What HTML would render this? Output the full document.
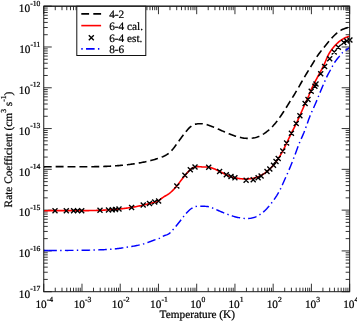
<!DOCTYPE html>
<html><head><meta charset="utf-8"><title>Rate Coefficient vs Temperature</title>
<style>html,body{margin:0;padding:0;background:#fff;overflow:hidden}svg{display:block}</style></head>
<body>
<svg width="357" height="322" viewBox="0 0 357 322" font-family="'Liberation Serif', serif" font-size="11.3" fill="#000" text-rendering="geometricPrecision"><style>text{stroke:#000;stroke-width:0.22px}</style>
<rect width="357" height="322" fill="#fff"/>
<path d="M43.75,291.7v-8M43.75,6.2v8M55.26,291.7v-4M55.26,6.2v4M61.99,291.7v-4M61.99,6.2v4M66.77,291.7v-4M66.77,6.2v4M70.48,291.7v-4M70.48,6.2v4M73.50,291.7v-4M73.50,6.2v4M76.06,291.7v-4M76.06,6.2v4M78.28,291.7v-4M78.28,6.2v4M80.24,291.7v-4M80.24,6.2v4M81.99,291.7v-8M81.99,6.2v8M93.50,291.7v-4M93.50,6.2v4M100.23,291.7v-4M100.23,6.2v4M105.01,291.7v-4M105.01,6.2v4M108.71,291.7v-4M108.71,6.2v4M111.74,291.7v-4M111.74,6.2v4M114.30,291.7v-4M114.30,6.2v4M116.52,291.7v-4M116.52,6.2v4M118.48,291.7v-4M118.48,6.2v4M120.22,291.7v-8M120.22,6.2v8M131.74,291.7v-4M131.74,6.2v4M138.47,291.7v-4M138.47,6.2v4M143.25,291.7v-4M143.25,6.2v4M146.95,291.7v-4M146.95,6.2v4M149.98,291.7v-4M149.98,6.2v4M152.54,291.7v-4M152.54,6.2v4M154.76,291.7v-4M154.76,6.2v4M156.71,291.7v-4M156.71,6.2v4M158.46,291.7v-8M158.46,6.2v8M169.97,291.7v-4M169.97,6.2v4M176.71,291.7v-4M176.71,6.2v4M181.48,291.7v-4M181.48,6.2v4M185.19,291.7v-4M185.19,6.2v4M188.22,291.7v-4M188.22,6.2v4M190.78,291.7v-4M190.78,6.2v4M192.99,291.7v-4M192.99,6.2v4M194.95,291.7v-4M194.95,6.2v4M196.70,291.7v-8M196.70,6.2v8M208.21,291.7v-4M208.21,6.2v4M214.94,291.7v-4M214.94,6.2v4M219.72,291.7v-4M219.72,6.2v4M223.43,291.7v-4M223.43,6.2v4M226.45,291.7v-4M226.45,6.2v4M229.01,291.7v-4M229.01,6.2v4M231.23,291.7v-4M231.23,6.2v4M233.19,291.7v-4M233.19,6.2v4M234.94,291.7v-8M234.94,6.2v8M246.45,291.7v-4M246.45,6.2v4M253.18,291.7v-4M253.18,6.2v4M257.96,291.7v-4M257.96,6.2v4M261.66,291.7v-4M261.66,6.2v4M264.69,291.7v-4M264.69,6.2v4M267.25,291.7v-4M267.25,6.2v4M269.47,291.7v-4M269.47,6.2v4M271.43,291.7v-4M271.43,6.2v4M273.17,291.7v-8M273.17,6.2v8M284.69,291.7v-4M284.69,6.2v4M291.42,291.7v-4M291.42,6.2v4M296.20,291.7v-4M296.20,6.2v4M299.90,291.7v-4M299.90,6.2v4M302.93,291.7v-4M302.93,6.2v4M305.49,291.7v-4M305.49,6.2v4M307.71,291.7v-4M307.71,6.2v4M309.66,291.7v-4M309.66,6.2v4M311.41,291.7v-8M311.41,6.2v8M322.92,291.7v-4M322.92,6.2v4M329.66,291.7v-4M329.66,6.2v4M334.43,291.7v-4M334.43,6.2v4M338.14,291.7v-4M338.14,6.2v4M341.17,291.7v-4M341.17,6.2v4M343.73,291.7v-4M343.73,6.2v4M345.94,291.7v-4M345.94,6.2v4M347.90,291.7v-4M347.90,6.2v4M349.65,291.7v-8M349.65,6.2v8M43.75,6.20h8M349.65,6.20h-8M43.75,34.71h4M349.65,34.71h-4M43.75,27.53h4M349.65,27.53h-4M43.75,22.43h4M349.65,22.43h-4M43.75,18.48h4M349.65,18.48h-4M43.75,15.25h4M349.65,15.25h-4M43.75,12.52h4M349.65,12.52h-4M43.75,10.15h4M349.65,10.15h-4M43.75,8.07h4M349.65,8.07h-4M43.75,46.99h8M349.65,46.99h-8M43.75,75.49h4M349.65,75.49h-4M43.75,68.31h4M349.65,68.31h-4M43.75,63.22h4M349.65,63.22h-4M43.75,59.26h4M349.65,59.26h-4M43.75,56.03h4M349.65,56.03h-4M43.75,53.30h4M349.65,53.30h-4M43.75,50.94h4M349.65,50.94h-4M43.75,48.85h4M349.65,48.85h-4M43.75,87.77h8M349.65,87.77h-8M43.75,116.28h4M349.65,116.28h-4M43.75,109.10h4M349.65,109.10h-4M43.75,104.00h4M349.65,104.00h-4M43.75,100.05h4M349.65,100.05h-4M43.75,96.82h4M349.65,96.82h-4M43.75,94.09h4M349.65,94.09h-4M43.75,91.72h4M349.65,91.72h-4M43.75,89.64h4M349.65,89.64h-4M43.75,128.56h8M349.65,128.56h-8M43.75,157.07h4M349.65,157.07h-4M43.75,149.88h4M349.65,149.88h-4M43.75,144.79h4M349.65,144.79h-4M43.75,140.83h4M349.65,140.83h-4M43.75,137.61h4M349.65,137.61h-4M43.75,134.87h4M349.65,134.87h-4M43.75,132.51h4M349.65,132.51h-4M43.75,130.42h4M349.65,130.42h-4M43.75,169.34h8M349.65,169.34h-8M43.75,197.85h4M349.65,197.85h-4M43.75,190.67h4M349.65,190.67h-4M43.75,185.57h4M349.65,185.57h-4M43.75,181.62h4M349.65,181.62h-4M43.75,178.39h4M349.65,178.39h-4M43.75,175.66h4M349.65,175.66h-4M43.75,173.30h4M349.65,173.30h-4M43.75,171.21h4M349.65,171.21h-4M43.75,210.13h8M349.65,210.13h-8M43.75,238.64h4M349.65,238.64h-4M43.75,231.45h4M349.65,231.45h-4M43.75,226.36h4M349.65,226.36h-4M43.75,222.41h4M349.65,222.41h-4M43.75,219.18h4M349.65,219.18h-4M43.75,216.45h4M349.65,216.45h-4M43.75,214.08h4M349.65,214.08h-4M43.75,211.99h4M349.65,211.99h-4M43.75,250.91h8M349.65,250.91h-8M43.75,279.42h4M349.65,279.42h-4M43.75,272.24h4M349.65,272.24h-4M43.75,267.14h4M349.65,267.14h-4M43.75,263.19h4M349.65,263.19h-4M43.75,259.96h4M349.65,259.96h-4M43.75,257.23h4M349.65,257.23h-4M43.75,254.87h4M349.65,254.87h-4M43.75,252.78h4M349.65,252.78h-4M43.75,291.70h8M349.65,291.70h-8" stroke="#000" stroke-width="0.8" fill="none"/>
<clipPath id="c"><rect x="43.75" y="6.2" width="305.9" height="285.5"/></clipPath>
<g clip-path="url(#c)" fill="none">
<path d="M43.75,166.85 L44.75,166.83 L45.75,166.80 L46.75,166.78 L47.75,166.76 L48.75,166.74 L49.75,166.73 L50.75,166.72 L51.75,166.70 L52.75,166.69 L53.75,166.68 L54.75,166.68 L55.75,166.67 L56.75,166.67 L57.75,166.66 L58.75,166.66 L59.75,166.66 L60.75,166.66 L61.75,166.66 L62.75,166.66 L63.75,166.66 L64.75,166.67 L65.75,166.67 L66.75,166.68 L67.75,166.68 L68.75,166.69 L69.75,166.69 L70.75,166.70 L71.75,166.70 L72.75,166.71 L73.75,166.71 L74.75,166.72 L75.75,166.72 L76.75,166.73 L77.75,166.73 L78.75,166.74 L79.75,166.74 L80.75,166.74 L81.75,166.74 L82.75,166.74 L83.75,166.75 L84.75,166.74 L85.75,166.74 L86.75,166.74 L87.75,166.74 L88.75,166.73 L89.75,166.72 L90.75,166.72 L91.75,166.71 L92.75,166.70 L93.75,166.68 L94.75,166.67 L95.75,166.65 L96.75,166.63 L97.75,166.61 L98.75,166.59 L99.75,166.57 L100.75,166.54 L101.75,166.51 L102.75,166.48 L103.75,166.45 L104.75,166.41 L105.75,166.37 L106.75,166.33 L107.75,166.28 L108.75,166.24 L109.75,166.19 L110.75,166.13 L111.75,166.08 L112.75,166.02 L113.75,165.95 L114.75,165.89 L115.75,165.82 L116.75,165.74 L117.75,165.66 L118.75,165.58 L119.75,165.50 L120.75,165.41 L121.75,165.32 L122.75,165.22 L123.75,165.12 L124.75,165.02 L125.75,164.91 L126.75,164.79 L127.75,164.68 L128.75,164.55 L129.75,164.43 L130.75,164.29 L131.75,164.16 L132.75,164.02 L133.75,163.87 L134.75,163.72 L135.75,163.56 L136.75,163.40 L137.75,163.24 L138.75,163.06 L139.75,162.89 L140.75,162.70 L141.75,162.52 L142.75,162.32 L143.75,162.12 L144.75,161.92 L145.75,161.70 L146.75,161.48 L147.75,161.26 L148.75,161.02 L149.75,160.78 L150.75,160.52 L151.75,160.26 L152.75,159.99 L153.75,159.71 L154.75,159.42 L155.75,159.12 L156.75,158.81 L157.75,158.49 L158.75,158.15 L159.75,157.81 L160.75,157.45 L161.75,157.07 L162.75,156.68 L163.75,156.26 L164.75,155.80 L165.75,155.28 L166.75,154.69 L167.75,154.02 L168.75,153.27 L169.75,152.42 L170.75,151.45 L171.75,150.38 L172.75,149.21 L173.75,147.97 L174.75,146.67 L175.75,145.32 L176.75,143.94 L177.75,142.55 L178.75,141.17 L179.75,139.79 L180.75,138.42 L181.75,137.07 L182.75,135.74 L183.75,134.42 L184.75,133.13 L185.75,131.87 L186.75,130.64 L187.75,129.48 L188.75,128.39 L189.75,127.40 L190.75,126.53 L191.75,125.79 L192.75,125.20 L193.75,124.73 L194.75,124.37 L195.75,124.11 L196.75,123.93 L197.75,123.81 L198.75,123.73 L199.75,123.69 L200.75,123.68 L201.75,123.71 L202.75,123.79 L203.75,123.91 L204.75,124.10 L205.75,124.33 L206.75,124.61 L207.75,124.92 L208.75,125.26 L209.75,125.63 L210.75,126.00 L211.75,126.39 L212.75,126.79 L213.75,127.20 L214.75,127.62 L215.75,128.05 L216.75,128.48 L217.75,128.91 L218.75,129.35 L219.75,129.79 L220.75,130.24 L221.75,130.68 L222.75,131.12 L223.75,131.56 L224.75,132.00 L225.75,132.43 L226.75,132.86 L227.75,133.28 L228.75,133.69 L229.75,134.10 L230.75,134.49 L231.75,134.87 L232.75,135.24 L233.75,135.59 L234.75,135.93 L235.75,136.25 L236.75,136.56 L237.75,136.84 L238.75,137.11 L239.75,137.35 L240.75,137.57 L241.75,137.77 L242.75,137.95 L243.75,138.10 L244.75,138.22 L245.75,138.31 L246.75,138.38 L247.75,138.41 L248.75,138.41 L249.75,138.38 L250.75,138.32 L251.75,138.22 L252.75,138.08 L253.75,137.91 L254.75,137.69 L255.75,137.44 L256.75,137.15 L257.75,136.81 L258.75,136.43 L259.75,136.00 L260.75,135.53 L261.75,135.02 L262.75,134.45 L263.75,133.84 L264.75,133.19 L265.75,132.48 L266.75,131.73 L267.75,130.93 L268.75,130.08 L269.75,129.18 L270.75,128.23 L271.75,127.23 L272.75,126.18 L273.75,125.07 L274.75,123.92 L275.75,122.72 L276.75,121.46 L277.75,120.16 L278.75,118.80 L279.75,117.40 L280.75,115.96 L281.75,114.48 L282.75,112.97 L283.75,111.44 L284.75,109.88 L285.75,108.30 L286.75,106.71 L287.75,105.11 L288.75,103.50 L289.75,101.90 L290.75,100.29 L291.75,98.69 L292.75,97.08 L293.75,95.46 L294.75,93.83 L295.75,92.17 L296.75,90.49 L297.75,88.77 L298.75,87.03 L299.75,85.28 L300.75,83.51 L301.75,81.75 L302.75,80.00 L303.75,78.27 L304.75,76.56 L305.75,74.88 L306.75,73.23 L307.75,71.59 L308.75,69.97 L309.75,68.35 L310.75,66.74 L311.75,65.11 L312.75,63.47 L313.75,61.82 L314.75,60.17 L315.75,58.53 L316.75,56.95 L317.75,55.43 L318.75,54.00 L319.75,52.66 L320.75,51.37 L321.75,50.12 L322.75,48.89 L323.75,47.65 L324.75,46.41 L325.75,45.17 L326.75,43.94 L327.75,42.73 L328.75,41.53 L329.75,40.35 L330.75,39.21 L331.75,38.09 L332.75,37.02 L333.75,35.98 L334.75,35.00 L335.75,34.06 L336.75,33.19 L337.75,32.37 L338.75,31.62 L339.75,30.95 L340.75,30.35 L341.75,29.82 L342.75,29.36 L343.75,28.96 L344.75,28.59 L345.75,28.24 L346.75,27.91 L347.75,27.58 L349.65,26.91" stroke="#000" stroke-width="1.6" stroke-dasharray="7.93 3.96"/>
<path d="M43.75,210.76 L44.75,210.73 L45.75,210.71 L46.75,210.70 L47.75,210.68 L48.75,210.67 L49.75,210.65 L50.75,210.64 L51.75,210.63 L52.75,210.62 L53.75,210.62 L54.75,210.61 L55.75,210.61 L56.75,210.60 L57.75,210.60 L58.75,210.60 L59.75,210.60 L60.75,210.60 L61.75,210.60 L62.75,210.60 L63.75,210.61 L64.75,210.61 L65.75,210.61 L66.75,210.61 L67.75,210.62 L68.75,210.62 L69.75,210.63 L70.75,210.63 L71.75,210.63 L72.75,210.64 L73.75,210.64 L74.75,210.64 L75.75,210.64 L76.75,210.65 L77.75,210.65 L78.75,210.65 L79.75,210.65 L80.75,210.64 L81.75,210.64 L82.75,210.64 L83.75,210.63 L84.75,210.63 L85.75,210.62 L86.75,210.61 L87.75,210.60 L88.75,210.59 L89.75,210.57 L90.75,210.56 L91.75,210.54 L92.75,210.52 L93.75,210.50 L94.75,210.48 L95.75,210.45 L96.75,210.42 L97.75,210.39 L98.75,210.36 L99.75,210.33 L100.75,210.29 L101.75,210.25 L102.75,210.20 L103.75,210.16 L104.75,210.11 L105.75,210.06 L106.75,210.00 L107.75,209.94 L108.75,209.88 L109.75,209.82 L110.75,209.75 L111.75,209.68 L112.75,209.60 L113.75,209.52 L114.75,209.44 L115.75,209.35 L116.75,209.26 L117.75,209.17 L118.75,209.07 L119.75,208.96 L120.75,208.86 L121.75,208.74 L122.75,208.63 L123.75,208.51 L124.75,208.38 L125.75,208.25 L126.75,208.11 L127.75,207.97 L128.75,207.83 L129.75,207.68 L130.75,207.52 L131.75,207.36 L132.75,207.20 L133.75,207.03 L134.75,206.85 L135.75,206.67 L136.75,206.48 L137.75,206.28 L138.75,206.08 L139.75,205.88 L140.75,205.67 L141.75,205.45 L142.75,205.23 L143.75,205.00 L144.75,204.76 L145.75,204.52 L146.75,204.27 L147.75,204.02 L148.75,203.77 L149.75,203.52 L150.75,203.26 L151.75,203.00 L152.75,202.75 L153.75,202.49 L154.75,202.24 L155.75,201.98 L156.75,201.66 L157.75,201.22 L158.75,200.62 L159.75,199.84 L160.75,199.01 L161.75,198.24 L162.75,197.55 L163.75,196.91 L164.75,196.31 L165.75,195.72 L166.75,195.13 L167.75,194.50 L168.75,193.82 L169.75,193.08 L170.75,192.25 L171.75,191.35 L172.75,190.38 L173.75,189.35 L174.75,188.26 L175.75,187.11 L176.75,185.92 L177.75,184.68 L178.75,183.41 L179.75,182.12 L180.75,180.82 L181.75,179.51 L182.75,178.22 L183.75,176.94 L184.75,175.69 L185.75,174.47 L186.75,173.31 L187.75,172.21 L188.75,171.18 L189.75,170.22 L190.75,169.36 L191.75,168.60 L192.75,167.95 L193.75,167.42 L194.75,167.02 L195.75,166.76 L196.75,166.63 L197.75,166.59 L198.75,166.63 L199.75,166.71 L200.75,166.80 L201.75,166.89 L202.75,166.94 L203.75,166.96 L204.75,166.97 L205.75,166.98 L206.75,167.01 L207.75,167.08 L208.75,167.20 L209.75,167.38 L210.75,167.62 L211.75,167.92 L212.75,168.26 L213.75,168.64 L214.75,169.05 L215.75,169.48 L216.75,169.94 L217.75,170.42 L218.75,170.91 L219.75,171.41 L220.75,171.92 L221.75,172.43 L222.75,172.94 L223.75,173.45 L224.75,173.95 L225.75,174.44 L226.75,174.91 L227.75,175.37 L228.75,175.80 L229.75,176.20 L230.75,176.57 L231.75,176.91 L232.75,177.22 L233.75,177.49 L234.75,177.73 L235.75,177.95 L236.75,178.14 L237.75,178.31 L238.75,178.46 L239.75,178.59 L240.75,178.70 L241.75,178.80 L242.75,178.88 L243.75,178.93 L244.75,178.97 L245.75,178.98 L246.75,178.97 L247.75,178.94 L248.75,178.88 L249.75,178.79 L250.75,178.67 L251.75,178.52 L252.75,178.34 L253.75,178.12 L254.75,177.87 L255.75,177.59 L256.75,177.27 L257.75,176.90 L258.75,176.50 L259.75,176.06 L260.75,175.57 L261.75,175.04 L262.75,174.47 L263.75,173.84 L264.75,173.17 L265.75,172.45 L266.75,171.67 L267.75,170.85 L268.75,169.97 L269.75,169.03 L270.75,168.04 L271.75,166.98 L272.75,165.87 L273.75,164.70 L274.75,163.46 L275.75,162.16 L276.75,160.78 L277.75,159.34 L278.75,157.82 L279.75,156.23 L280.75,154.55 L281.75,152.80 L282.75,150.95 L283.75,149.03 L284.75,147.03 L285.75,144.98 L286.75,142.89 L287.75,140.77 L288.75,138.66 L289.75,136.56 L290.75,134.48 L291.75,132.46 L292.75,130.48 L293.75,128.52 L294.75,126.56 L295.75,124.55 L296.75,122.48 L297.75,120.33 L298.75,118.12 L299.75,115.87 L300.75,113.58 L301.75,111.28 L302.75,108.99 L303.75,106.73 L304.75,104.53 L305.75,102.42 L306.75,100.33 L307.75,98.16 L308.75,95.78 L309.75,93.22 L310.75,90.70 L311.75,88.40 L312.75,86.29 L313.75,84.31 L314.75,82.38 L315.75,80.45 L316.75,78.53 L317.75,76.62 L318.75,74.76 L319.75,72.95 L320.75,71.18 L321.75,69.37 L322.75,67.47 L323.75,65.39 L324.75,63.12 L325.75,60.76 L326.75,58.42 L327.75,56.20 L328.75,54.21 L329.75,52.45 L330.75,50.88 L331.75,49.47 L332.75,48.18 L333.75,46.97 L334.75,45.83 L335.75,44.76 L336.75,43.76 L337.75,42.83 L338.75,41.96 L339.75,41.16 L340.75,40.41 L341.75,39.73 L342.75,39.10 L343.75,38.53 L344.75,38.02 L345.75,37.55 L346.75,37.14 L347.75,36.78 L349.65,36.22" stroke="#f00" stroke-width="1.6"/>
<path d="M43.7,250.5H48.2" stroke="#00f" stroke-width="1.45"/>
<path d="M43.75,250.52 L44.75,250.51 L45.75,250.50 L46.75,250.49 L47.75,250.49 L48.75,250.48 L49.75,250.47 L50.75,250.46 L51.75,250.46 L52.75,250.45 L53.75,250.45 L54.75,250.44 L55.75,250.44 L56.75,250.43 L57.75,250.43 L58.75,250.43 L59.75,250.42 L60.75,250.42 L61.75,250.42 L62.75,250.41 L63.75,250.41 L64.75,250.41 L65.75,250.40 L66.75,250.40 L67.75,250.40 L68.75,250.39 L69.75,250.39 L70.75,250.38 L71.75,250.38 L72.75,250.37 L73.75,250.36 L74.75,250.36 L75.75,250.35 L76.75,250.34 L77.75,250.33 L78.75,250.32 L79.75,250.31 L80.75,250.30 L81.75,250.29 L82.75,250.27 L83.75,250.26 L84.75,250.24 L85.75,250.22 L86.75,250.20 L87.75,250.19 L88.75,250.16 L89.75,250.14 L90.75,250.12 L91.75,250.09 L92.75,250.07 L93.75,250.04 L94.75,250.01 L95.75,249.98 L96.75,249.94 L97.75,249.91 L98.75,249.87 L99.75,249.83 L100.75,249.79 L101.75,249.75 L102.75,249.71 L103.75,249.66 L104.75,249.61 L105.75,249.56 L106.75,249.51 L107.75,249.45 L108.75,249.39 L109.75,249.33 L110.75,249.26 L111.75,249.19 L112.75,249.11 L113.75,249.02 L114.75,248.93 L115.75,248.82 L116.75,248.71 L117.75,248.58 L118.75,248.45 L119.75,248.31 L120.75,248.17 L121.75,248.02 L122.75,247.87 L123.75,247.71 L124.75,247.56 L125.75,247.40 L126.75,247.24 L127.75,247.08 L128.75,246.92 L129.75,246.76 L130.75,246.60 L131.75,246.44 L132.75,246.27 L133.75,246.10 L134.75,245.92 L135.75,245.73 L136.75,245.54 L137.75,245.34 L138.75,245.12 L139.75,244.90 L140.75,244.66 L141.75,244.41 L142.75,244.14 L143.75,243.86 L144.75,243.56 L145.75,243.24 L146.75,242.91 L147.75,242.55 L148.75,242.17 L149.75,241.78 L150.75,241.37 L151.75,240.97 L152.75,240.58 L153.75,240.21 L154.75,239.86 L155.75,239.54 L156.75,239.26 L157.75,238.97 L158.75,238.64 L159.75,238.20 L160.75,237.64 L161.75,237.01 L162.75,236.41 L163.75,235.91 L164.75,235.51 L165.75,235.16 L166.75,234.81 L167.75,234.40 L168.75,233.89 L169.75,233.20 L170.75,232.31 L171.75,231.23 L172.75,230.05 L173.75,228.86 L174.75,227.67 L175.75,226.47 L176.75,225.26 L177.75,224.03 L178.75,222.80 L179.75,221.54 L180.75,220.27 L181.75,218.97 L182.75,217.66 L183.75,216.36 L184.75,215.09 L185.75,213.87 L186.75,212.72 L187.75,211.65 L188.75,210.67 L189.75,209.77 L190.75,208.97 L191.75,208.26 L192.75,207.66 L193.75,207.17 L194.75,206.78 L195.75,206.52 L196.75,206.36 L197.75,206.28 L198.75,206.27 L199.75,206.27 L200.75,206.28 L201.75,206.28 L202.75,206.28 L203.75,206.28 L204.75,206.30 L205.75,206.35 L206.75,206.43 L207.75,206.57 L208.75,206.76 L209.75,207.01 L210.75,207.32 L211.75,207.67 L212.75,208.06 L213.75,208.48 L214.75,208.93 L215.75,209.38 L216.75,209.83 L217.75,210.28 L218.75,210.72 L219.75,211.16 L220.75,211.60 L221.75,212.02 L222.75,212.44 L223.75,212.85 L224.75,213.26 L225.75,213.65 L226.75,214.04 L227.75,214.41 L228.75,214.77 L229.75,215.12 L230.75,215.46 L231.75,215.79 L232.75,216.10 L233.75,216.40 L234.75,216.68 L235.75,216.94 L236.75,217.19 L237.75,217.42 L238.75,217.64 L239.75,217.83 L240.75,218.01 L241.75,218.17 L242.75,218.30 L243.75,218.40 L244.75,218.48 L245.75,218.53 L246.75,218.54 L247.75,218.52 L248.75,218.46 L249.75,218.37 L250.75,218.23 L251.75,218.05 L252.75,217.82 L253.75,217.54 L254.75,217.21 L255.75,216.83 L256.75,216.39 L257.75,215.89 L258.75,215.33 L259.75,214.72 L260.75,214.03 L261.75,213.28 L262.75,212.48 L263.75,211.61 L264.75,210.68 L265.75,209.70 L266.75,208.66 L267.75,207.57 L268.75,206.43 L269.75,205.23 L270.75,203.99 L271.75,202.70 L272.75,201.37 L273.75,199.99 L274.75,198.57 L275.75,197.09 L276.75,195.54 L277.75,193.90 L278.75,192.16 L279.75,190.31 L280.75,188.34 L281.75,186.24 L282.75,184.05 L283.75,181.81 L284.75,179.55 L285.75,177.29 L286.75,175.05 L287.75,172.80 L288.75,170.50 L289.75,168.15 L290.75,165.73 L291.75,163.24 L292.75,160.69 L293.75,158.08 L294.75,155.40 L295.75,152.67 L296.75,149.93 L297.75,147.23 L298.75,144.62 L299.75,142.13 L300.75,139.81 L301.75,137.60 L302.75,135.39 L303.75,133.09 L304.75,130.58 L305.75,127.87 L306.75,125.03 L307.75,122.15 L308.75,119.33 L309.75,116.66 L310.75,114.19 L311.75,111.88 L312.75,109.67 L313.75,107.49 L314.75,105.30 L315.75,103.03 L316.75,100.64 L317.75,98.15 L318.75,95.63 L319.75,93.13 L320.75,90.69 L321.75,88.35 L322.75,86.07 L323.75,83.76 L324.75,81.41 L325.75,79.06 L326.75,76.87 L327.75,74.88 L328.75,73.03 L329.75,71.23 L330.75,69.40 L331.75,67.52 L332.75,65.67 L333.75,63.89 L334.75,62.27 L335.75,60.83 L336.75,59.53 L337.75,58.31 L338.75,57.11 L339.75,55.89 L340.75,54.64 L341.75,53.45 L342.75,52.41 L343.75,51.53 L344.75,50.78 L345.75,50.12 L346.75,49.51 L347.75,48.91 L349.65,47.65" stroke="#00f" stroke-width="1.45" stroke-dasharray="8.6 3.325 1.4 3.325" stroke-dashoffset="-4.5"/>
</g>
<path d="M52.5,208.3l5,5M52.5,213.3l5,-5M63.8,208.3l5,5M63.8,213.3l5,-5M71.1,208.3l5,5M71.1,213.3l5,-5M75.0,208.3l5,5M75.0,213.3l5,-5M79.2,208.3l5,5M79.2,213.3l5,-5M97.5,207.7l5,5M97.5,212.7l5,-5M106.0,207.4l5,5M106.0,212.4l5,-5M109.8,207.2l5,5M109.8,212.2l5,-5M113.0,206.9l5,5M113.0,211.9l5,-5M116.5,206.6l5,5M116.5,211.6l5,-5M129.1,205.0l5,5M129.1,210.0l5,-5M140.7,202.6l5,5M140.7,207.6l5,-5M147.0,200.9l5,5M147.0,205.9l5,-5M152.2,199.5l5,5M152.2,204.5l5,-5M156.1,198.4l5,5M156.1,203.4l5,-5M174.3,183.6l5,5M174.3,188.6l5,-5M182.4,172.7l5,5M182.4,177.7l5,-5M187.8,167.3l5,5M187.8,172.3l5,-5M192.5,164.6l5,5M192.5,169.6l5,-5M206.2,164.8l5,5M206.2,169.8l5,-5M217.1,168.9l5,5M217.1,173.9l5,-5M223.8,172.3l5,5M223.8,177.3l5,-5M228.5,174.1l5,5M228.5,179.1l5,-5M232.4,175.3l5,5M232.4,180.3l5,-5M243.6,177.8l5,5M243.6,182.8l5,-5M250.7,177.3l5,5M250.7,182.3l5,-5M255.6,175.3l5,5M255.6,180.3l5,-5M258.6,173.4l5,5M258.6,178.4l5,-5M264.5,168.9l5,5M264.5,173.9l5,-5M267.3,166.5l5,5M267.3,171.5l5,-5M271.0,162.8l5,5M271.0,167.8l5,-5M273.5,159.1l5,5M273.5,164.1l5,-5M275.7,156.1l5,5M275.7,161.1l5,-5M280.3,148.5l5,5M280.3,153.5l5,-5M284.1,140.6l5,5M284.1,145.6l5,-5M288.9,130.7l5,5M288.9,135.7l5,-5M293.7,121.1l5,5M293.7,126.1l5,-5M297.4,113.2l5,5M297.4,118.2l5,-5M302.6,100.9l5,5M302.6,105.9l5,-5M305.5,96.9l5,5M305.5,101.9l5,-5M308.7,88.7l5,5M308.7,93.7l5,-5M312.4,83.7l5,5M312.4,88.7l5,-5M313.5,81.4l5,5M313.5,86.4l5,-5M318.2,71.2l5,5M318.2,76.2l5,-5M322.1,64.0l5,5M322.1,69.0l5,-5M327.2,56.3l5,5M327.2,61.3l5,-5M331.7,49.4l5,5M331.7,54.4l5,-5M335.8,44.8l5,5M335.8,49.8l5,-5M341.3,40.0l5,5M341.3,45.0l5,-5M344.3,38.6l5,5M344.3,43.6l5,-5M347.4,37.6l5,5M347.4,42.6l5,-5" stroke="#000" stroke-width="1.35" fill="none"/>
<rect x="43.75" y="6.2" width="305.9" height="285.5" fill="none" stroke="#1a1a1a" stroke-width="1"/>
<rect x="76.8" y="6.2" width="69.00000000000001" height="49.3" fill="#fff" stroke="#111" stroke-width="1"/>
<path d="M43.75,6.2H349.65" stroke="#1a1a1a" stroke-width="1"/>
<path d="M81.3,13.8H101.1" stroke="#000" stroke-width="1.8" stroke-dasharray="7.8 4.2"/>
<path d="M81.3,25.6H101.1" stroke="#f00" stroke-width="1.6"/>
<path d="M88.8,35.2l5,5M88.8,40.2l5,-5" stroke="#000" stroke-width="1.35" fill="none"/>
<path d="M81.3,48.9H101.1" stroke="#00f" stroke-width="1.6" stroke-dasharray="1.4 3.325 8.6 3.325"/>
<text x="109.2" y="17.5">4-2</text>
<text x="109.2" y="29.6">6-4 cal.</text>
<text x="109.2" y="41.5">6-4 est.</text>
<text x="109.2" y="53.1">8-6</text>
<text x="40.4" y="12.40" text-anchor="end">10<tspan font-size="7.7" dy="-6.5">-10</tspan></text>
<text x="40.4" y="53.19" text-anchor="end">10<tspan font-size="7.7" dy="-6.5">-11</tspan></text>
<text x="40.4" y="93.97" text-anchor="end">10<tspan font-size="7.7" dy="-6.5">-12</tspan></text>
<text x="40.4" y="134.76" text-anchor="end">10<tspan font-size="7.7" dy="-6.5">-13</tspan></text>
<text x="40.4" y="175.54" text-anchor="end">10<tspan font-size="7.7" dy="-6.5">-14</tspan></text>
<text x="40.4" y="216.33" text-anchor="end">10<tspan font-size="7.7" dy="-6.5">-15</tspan></text>
<text x="40.4" y="257.11" text-anchor="end">10<tspan font-size="7.7" dy="-6.5">-16</tspan></text>
<text x="40.4" y="297.90" text-anchor="end">10<tspan font-size="7.7" dy="-6.5">-17</tspan></text>
<text x="44.25" y="308.2" text-anchor="middle">10<tspan font-size="7.7" dy="-6.1">-4</tspan></text>
<text x="82.49" y="308.2" text-anchor="middle">10<tspan font-size="7.7" dy="-6.1">-3</tspan></text>
<text x="120.72" y="308.2" text-anchor="middle">10<tspan font-size="7.7" dy="-6.1">-2</tspan></text>
<text x="158.96" y="308.2" text-anchor="middle">10<tspan font-size="7.7" dy="-6.1">-1</tspan></text>
<text x="197.80" y="308.2" text-anchor="middle">10<tspan font-size="7.7" dy="-6.1">0</tspan></text>
<text x="236.04" y="308.2" text-anchor="middle">10<tspan font-size="7.7" dy="-6.1">1</tspan></text>
<text x="274.27" y="308.2" text-anchor="middle">10<tspan font-size="7.7" dy="-6.1">2</tspan></text>
<text x="312.51" y="308.2" text-anchor="middle">10<tspan font-size="7.7" dy="-6.1">3</tspan></text>
<text x="350.75" y="308.2" text-anchor="middle">10<tspan font-size="7.7" dy="-6.1">4</tspan></text>
<text x="197.3" y="318" text-anchor="middle">Temperature (K)</text>
<text transform="translate(12.2,149.5) rotate(-90)" text-anchor="middle">Rate Coefficient (cm<tspan font-size="7.7" dy="-6">3</tspan><tspan dy="6"> s</tspan><tspan font-size="7.7" dy="-6">-1</tspan><tspan dy="6">)</tspan></text>
</svg>
</body></html>
